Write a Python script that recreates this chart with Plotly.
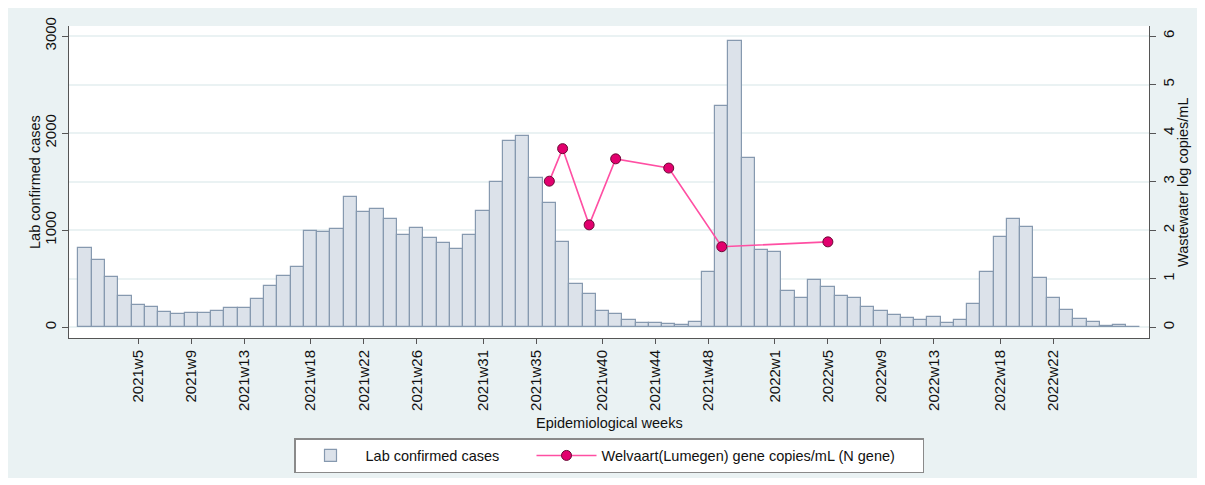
import plotly.graph_objects as go

# ---- data ----
weeks_2021 = [f"2021w{i}" for i in range(1, 53)]
weeks_2022 = [f"2022w{i}" for i in range(1, 29)]
weeks = weeks_2021 + weeks_2022

cases_2021 = [820, 689, 520, 320, 227, 214, 158, 134, 148, 148,
              169, 196, 196, 289, 427, 524, 617, 992, 978, 1009,
              1343, 1192, 1219, 1116, 947, 1023, 916, 871, 809, 947,
              1199, 1495, 1922, 1970, 1540, 1285, 875, 444, 344, 169,
              138, 74, 43, 41, 34, 28, 59, 565, 2280, 2949,
              1743, 796]
cases_2022 = [779, 375, 303, 489, 417, 320, 307, 214, 165, 124,
              92, 76, 107, 41, 76, 245, 565, 933, 1119, 1033,
              506, 307, 179, 86, 52, 17, 24, 5]
cases = cases_2021 + cases_2022

ww_weeks = ["2021w36", "2021w37", "2021w39", "2021w41", "2021w45", "2021w49", "2022w5"]
ww_values = [3.01, 3.68, 2.11, 3.47, 3.28, 1.66, 1.76]

tick_weeks = ["2021w5", "2021w9", "2021w13", "2021w18", "2021w22", "2021w26",
              "2021w31", "2021w35", "2021w40", "2021w44", "2021w48",
              "2022w1", "2022w5", "2022w9", "2022w13", "2022w18", "2022w22"]

# ---- style ----
FONT = "Liberation Sans, Arial, sans-serif"
BG = "#EAF2F3"
AXIS = "#555555"
TXT = "#111111"

# page has an 8px body margin; the figure div starts at (8, 8)
OFF = 8
W, H = 1190, 470
# plot area in page pixels: x 69..1149, y 26..338
L, T = 69 - OFF, 26 - OFF
R = W - (1149 - OFF)
B = H - (338 - OFF)
pw, ph = W - L - R, H - T - B

def px_x(px):
    return (px - OFF - L) / pw

def px_y(py):
    return (H - B - (py - OFF)) / ph

fig = go.Figure()

fig.add_trace(go.Bar(
    x=weeks, y=cases, name="Lab confirmed cases",
    marker=dict(color="#DCE2EA", line=dict(color="#8699AF", width=1.2)),
    legendwidth=161,
))

fig.add_trace(go.Scatter(
    x=ww_weeks, y=ww_values, yaxis="y2", mode="lines+markers",
    name="Welvaart(Lumegen) gene copies/mL (N gene)",
    line=dict(color="#FF4FA3", width=1.6),
    marker=dict(color="#E2006E", size=10, line=dict(color="#6A0A35", width=1)),
    legendwidth=316,
))

fig.update_layout(
    width=W, height=H,
    margin=dict(l=L, r=R, t=T, b=B, autoexpand=False),
    paper_bgcolor=BG,
    plot_bgcolor="white",
    font=dict(family=FONT, size=14.5, color=TXT),
    bargap=0,
    showlegend=True,
    legend=dict(
        orientation="h", x=0.5, xanchor="center", y=px_y(438), yanchor="top",
        bgcolor="white", bordercolor="#8a8a8a", borderwidth=1.5,
        font=dict(family=FONT, size=14.5, color=TXT),
        itemwidth=60, tracegroupgap=0,
    ),
    xaxis=dict(
        type="category", categoryorder="array", categoryarray=weeks,
        range=[-1.215, 80.21], automargin=False,
        tickmode="array", tickvals=tick_weeks, ticktext=tick_weeks,
        tickangle=-90, ticks="outside", ticklen=5, tickcolor=AXIS,
        showline=True, linecolor=AXIS, linewidth=1,
        showgrid=False, zeroline=False,
        tickfont=dict(family=FONT, size=15, color=TXT),
    ),
    yaxis=dict(
        range=[-110, 3103], automargin=False,
        tickvals=[0, 1000, 2000, 3000],
        tickangle=-90, ticks="outside", ticklen=6, tickcolor=AXIS,
        showline=True, linecolor=AXIS, linewidth=1,
        showgrid=True, gridcolor=BG, gridwidth=1.5,
        minor=dict(dtick=500, showgrid=True, gridcolor=BG, gridwidth=1.5, ticks=""),
        zeroline=False,
        tickfont=dict(family=FONT, size=15, color=TXT),
    ),
    yaxis2=dict(
        overlaying="y", side="right",
        range=[-0.22, 6.206], automargin=False,
        tickvals=[0, 1, 2, 3, 4, 5, 6],
        tickangle=-90, ticks="outside", ticklen=6, tickcolor=AXIS,
        showline=True, linecolor=AXIS, linewidth=1,
        showgrid=False, zeroline=False,
        tickfont=dict(family=FONT, size=15, color=TXT),
    ),
    annotations=[
        dict(text="Lab confirmed cases", xref="paper", yref="paper",
             x=px_x(35), y=0.5, textangle=-90, showarrow=False,
             xanchor="center", yanchor="middle", font=dict(size=14.5, color=TXT)),
        dict(text="Wastewater log copies/mL", xref="paper", yref="paper",
             x=px_x(1183), y=0.5, textangle=-90, showarrow=False,
             xanchor="center", yanchor="middle", font=dict(size=14.5, color=TXT)),
        dict(text="Epidemiological weeks", xref="paper", yref="paper",
             x=0.5, y=px_y(423), showarrow=False,
             xanchor="center", yanchor="middle", font=dict(size=14.5, color=TXT)),
    ],
)

fig.write_html("out.html")
